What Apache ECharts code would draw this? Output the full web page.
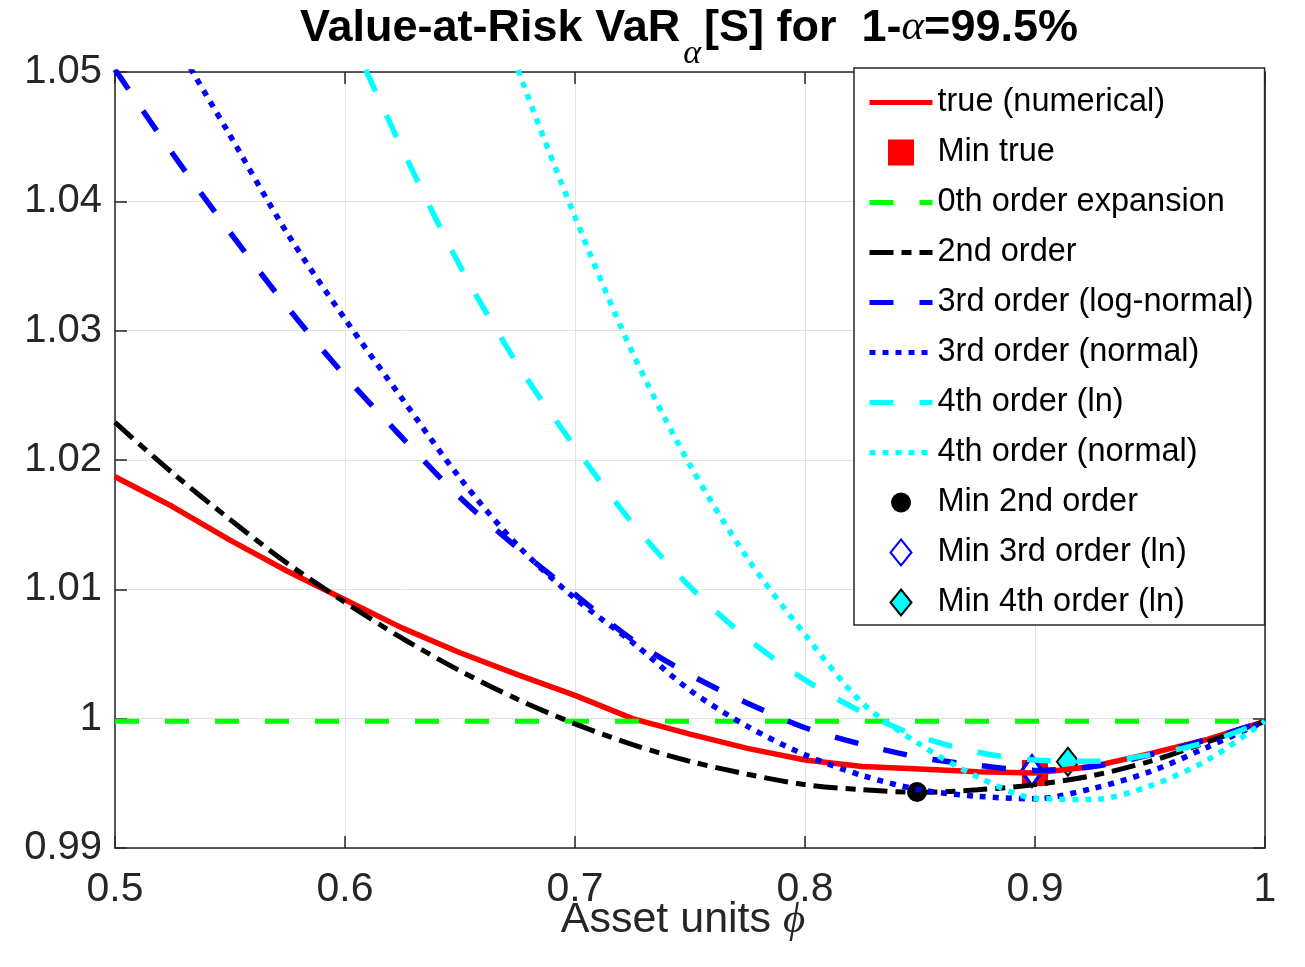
<!DOCTYPE html>
<html>
<head>
<meta charset="utf-8">
<script src="https://cdn.jsdelivr.net/npm/echarts@6/dist/echarts.min.js"></script>
<style>
html, body { margin: 0; padding: 0; background: #fff; }
#main { width: 1305px; height: 967px; }
</style>
</head>
<body>
<div id="main"></div>
<script>
// asset units phi (x)
var phi = [0.5, 0.525, 0.55, 0.575, 0.6, 0.625, 0.65, 0.675, 0.7, 0.725, 0.75,
           0.775, 0.8, 0.825, 0.85, 0.875, 0.9, 0.925, 0.95, 0.975, 1.0];

// VaR curves (null = above the plot, not drawn)
var trueNum      = [1.0187, 1.0164, 1.0138, 1.0114, 1.0092, 1.0070, 1.0051, 1.0034, 1.0018, 1.0000, 0.9988,
                    0.9977, 0.9968, 0.9963, 0.9961, 0.9959, 0.9958, 0.9963, 0.9973, 0.9984, 0.9998];
var order2       = [1.0229, 1.0190, 1.0154, 1.0120, 1.0090, 1.0062, 1.0037, 1.0015, 0.9996, 0.9980, 0.9967,
                    0.9957, 0.9949, 0.9945, 0.9943, 0.9945, 0.9949, 0.9956, 0.9967, 0.9982, 0.9998];
var order3Ln     = [1.0502, 1.0437, 1.0376, 1.0318, 1.0265, 1.0217, 1.0171, 1.0132, 1.0096, 1.0061, 1.0034,
                    1.0012, 0.9993, 0.9980, 0.9970, 0.9964, 0.9960, 0.9963, 0.9972, 0.9984, 0.9998];
var order3Normal = [1.0620, 1.0528, 1.0451, 1.0375, 1.0309, 1.0247, 1.0186, 1.0134, 1.0093, 1.0059, 1.0022,
                    0.9994, 0.9972, 0.9956, 0.9945, 0.9940, 0.9938, 0.9946, 0.9959, 0.9978, 0.9998];
var order4Ln     = [null, null, null, null, 1.0537, 1.0440, 1.0350, 1.0274, 1.0210, 1.0151, 1.0102,
                    1.0062, 1.0030, 1.0005, 0.9986, 0.9974, 0.9968, 0.9967, 0.9972, 0.9982, 0.9998];
var order4Normal = [null, null, null, null, null, null, 1.0635, 1.0503, 1.0388, 1.0283, 1.0196,
                    1.0124, 1.0065, 1.0012, 0.9980, 0.9955, 0.99385, 0.99375, 0.9948, 0.9968, 0.9998];

// 0th order expansion (flat)
var order0Phi = [0.5, 1.0];
var order0    = [0.9998, 0.9998];

// minima [phi, VaR]
var minTrue   = [0.9, 0.9958];
var min2nd    = [0.8487, 0.99433];
var min3rdLn  = [0.8987, 0.99595];
var min4thLn  = [0.9143, 0.99667];

var xTicks = [0.5, 0.6, 0.7, 0.8, 0.9, 1];
var yTicks = [0.99, 1, 1.01, 1.02, 1.03, 1.04, 1.05];

var FONT = "'Liberation Sans', Arial, Helvetica, sans-serif";
var SERIF = "'Liberation Serif', 'DejaVu Serif', serif";
var AX = '#262626';

function pairs(xs, ys) {
  var out = [];
  for (var i = 0; i < xs.length; i++) {
    if (ys[i] !== null) out.push([xs[i], ys[i]]);
  }
  return out;
}

var myChart = echarts.init(document.getElementById('main'), null, { renderer: 'canvas' });

var gridLeft = 115, gridTop = 72, gridW = 1150, gridH = 776;

var baseX = {
  type: 'value', min: xTicks[0], max: xTicks[xTicks.length - 1], interval: 0.1,
  axisLine: { show: true, onZero: false, lineStyle: { color: AX, width: 1.5 } },
  axisTick: { show: true, inside: true, length: 12, lineStyle: { color: AX, width: 1.5 } },
  splitLine: { show: false }
};
var baseY = {
  type: 'value', min: yTicks[0], max: yTicks[yTicks.length - 1], interval: 0.01,
  axisLine: { show: true, onZero: false, lineStyle: { color: AX, width: 1.5 } },
  axisTick: { show: true, inside: true, length: 12, lineStyle: { color: AX, width: 1.5 } },
  splitLine: { show: false }
};

// legend line items: hide the marker ECharts puts in the middle of line icons
var noMark = { color: 'rgba(0,0,0,0)', borderWidth: 0, opacity: 0 };

var option = {
  animation: false,
  backgroundColor: '#fff',
  grid: { left: gridLeft, top: gridTop, width: gridW, height: gridH, containLabel: false },
  xAxis: [
    Object.assign({}, baseX, {
      position: 'bottom',
      axisLabel: { show: true, margin: 21, fontSize: 41, fontFamily: FONT, color: AX,
                   showMinLabel: true, showMaxLabel: true },
      splitLine: { show: true, lineStyle: { color: '#e3e3e3', width: 1 } }
    }),
    Object.assign({}, baseX, { position: 'top', axisLabel: { show: false } })
  ],
  yAxis: [
    Object.assign({}, baseY, {
      position: 'left',
      axisLabel: { show: true, margin: 13, fontSize: 40, fontFamily: FONT, color: AX,
                   showMinLabel: true, showMaxLabel: true },
      splitLine: { show: true, lineStyle: { color: '#e3e3e3', width: 1 } }
    }),
    Object.assign({}, baseY, { position: 'right', axisLabel: { show: false } })
  ],
  legend: {
    orient: 'vertical',
    left: 854, top: 68,
    itemWidth: 63, itemHeight: 26, itemGap: 17,
    padding: [18, 11, 6, 13],
    backgroundColor: '#fff',
    borderColor: AX, borderWidth: 1.5, borderRadius: 0,
    textStyle: { fontFamily: FONT, fontSize: 32.5, color: '#000' },
    lineStyle: { width: 5 },
    selectedMode: false,
    data: [
      { name: 'true (numerical)', itemStyle: noMark },
      { name: 'Min true', icon: 'path://M0,0L27,0L27,27L0,27Z' },
      { name: '0th order expansion', itemStyle: noMark },
      { name: '2nd order', itemStyle: noMark },
      { name: '3rd order (log-normal)', itemStyle: noMark },
      { name: '3rd order (normal)', itemStyle: noMark },
      { name: '4th order (ln)', itemStyle: noMark },
      { name: '4th order (normal)', itemStyle: noMark },
      { name: 'Min 2nd order', icon: 'path://M0,0M26,26M3,13A10,10,0,1,1,23,13A10,10,0,1,1,3,13Z' },
      { name: 'Min 3rd order (ln)', icon: 'path://M13,0L23.5,13L13,26L2.5,13Z' },
      { name: 'Min 4th order (ln)', icon: 'path://M13,0L23.5,13L13,26L2.5,13Z' }
    ]
  },
  graphic: [
    {
      type: 'text', x: 689, y: 6, z: 100,
      style: {
        text: '{b|Value-at-Risk VaR}{s|α}{b|[S] for  1-}{a|α}{b|=99.5%}',
        align: 'center', textAlign: 'center', verticalAlign: 'top', textVerticalAlign: 'top',
        rich: {
          b: { fontSize: 45, fontWeight: 'bold', fontFamily: FONT, fill: '#000', color: '#000',
               lineHeight: 46, verticalAlign: 'top' },
          s: { fontSize: 34, fontStyle: 'italic', fontFamily: SERIF, fill: '#000', color: '#000',
               lineHeight: 34, padding: [31, 3, 0, 3], verticalAlign: 'top' },
          a: { fontSize: 43, fontStyle: 'italic', fontFamily: SERIF, fill: '#000', color: '#000',
               lineHeight: 46, verticalAlign: 'top' }
        }
      }
    },
    {
      type: 'text', x: 683, y: 899, z: 100,
      style: {
        text: '{n|Asset units }{p|ϕ}',
        align: 'center', textAlign: 'center', verticalAlign: 'top', textVerticalAlign: 'top',
        rich: {
          n: { fontSize: 43, fontFamily: FONT, fill: AX, color: AX, lineHeight: 46, verticalAlign: 'top' },
          p: { fontSize: 43, fontStyle: 'italic', fontFamily: SERIF, fill: AX, color: AX,
               lineHeight: 46, verticalAlign: 'top' }
        }
      }
    }
  ],
  series: [
    {
      name: 'true (numerical)', type: 'line', data: pairs(phi, trueNum),
      symbol: 'none', clip: true,
      lineStyle: { color: '#ff0000', width: 5.5 }, itemStyle: { color: '#ff0000' }
    },
    {
      name: 'Min true', type: 'scatter', data: [minTrue],
      symbol: 'rect', symbolSize: 26, itemStyle: { color: '#ff0000', opacity: 1 }
    },
    {
      name: '0th order expansion', type: 'line', data: pairs(order0Phi, order0),
      symbol: 'none', clip: true,
      lineStyle: { color: '#00ff00', width: 5, type: [24, 26] }, itemStyle: { color: '#00ff00' }
    },
    {
      name: '2nd order', type: 'line', data: pairs(phi, order2),
      symbol: 'none', smooth: 0.3, clip: true,
      lineStyle: { color: '#000000', width: 5, type: [24, 8, 10, 8] }, itemStyle: { color: '#000000' }
    },
    {
      name: '3rd order (log-normal)', type: 'line', data: pairs(phi, order3Ln),
      symbol: 'none', smooth: 0.3, clip: true,
      lineStyle: { color: '#0000ff', width: 5.5, type: [24, 26] }, itemStyle: { color: '#0000ff' }
    },
    {
      name: '3rd order (normal)', type: 'line', data: pairs(phi, order3Normal),
      symbol: 'none', smooth: 0.3, clip: true,
      lineStyle: { color: '#0000ff', width: 5.5, type: [6, 7] }, itemStyle: { color: '#0000ff' }
    },
    {
      name: '4th order (ln)', type: 'line', data: pairs(phi, order4Ln),
      symbol: 'none', smooth: 0.3, clip: true,
      lineStyle: { color: '#00ffff', width: 5.5, type: [24, 26] }, itemStyle: { color: '#00ffff' }
    },
    {
      name: '4th order (normal)', type: 'line', data: pairs(phi, order4Normal),
      symbol: 'none', smooth: 0.3, clip: true,
      lineStyle: { color: '#00ffff', width: 5.5, type: [6, 7] }, itemStyle: { color: '#00ffff' }
    },
    {
      name: 'Min 2nd order', type: 'scatter', data: [min2nd],
      symbol: 'circle', symbolSize: 20, itemStyle: { color: '#000000', opacity: 1 }
    },
    {
      name: 'Min 3rd order (ln)', type: 'scatter', data: [min3rdLn],
      symbol: 'diamond', symbolSize: [21, 30],
      itemStyle: { color: '#ffffff', borderColor: '#0000ff', borderWidth: 3.5, opacity: 1 }
    },
    {
      name: 'Min 4th order (ln)', type: 'scatter', data: [min4thLn],
      symbol: 'diamond', symbolSize: [22, 28],
      itemStyle: { color: '#00ffff', borderColor: '#000000', borderWidth: 2, opacity: 1 }
    }
  ]
};

myChart.setOption(option);
</script>
</body>
</html>
